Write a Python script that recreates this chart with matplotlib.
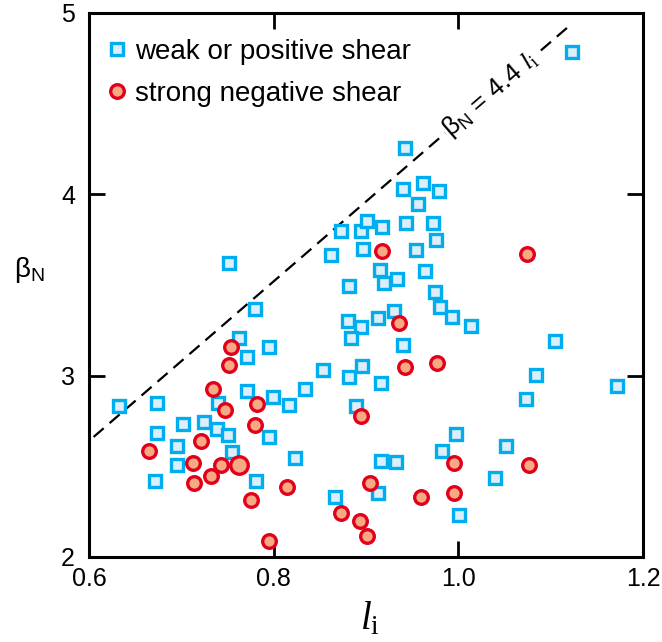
import numpy as np
import matplotlib
matplotlib.use('Agg')
import matplotlib.pyplot as plt

plt.rcParams['font.family'] = ['Liberation Sans', 'DejaVu Sans']
plt.rcParams['mathtext.fontset'] = 'custom'
plt.rcParams['mathtext.rm'] = 'Liberation Serif'
plt.rcParams['mathtext.it'] = 'Liberation Serif:italic'

# weak or positive shear discharges (internal inductance, normalised beta)
weak_li = [1.123, 0.942, 0.940, 0.962, 0.979, 0.956, 0.943, 0.973, 0.976, 0.873,
           0.895, 0.901, 0.917, 0.897, 0.862, 0.954, 0.915, 0.934, 0.920, 0.964,
           0.882, 0.975, 0.980, 0.993, 1.014, 0.930, 0.913, 0.881, 0.895, 0.884,
           0.940, 0.853, 0.896, 0.882, 0.916, 0.834, 0.889, 0.752, 0.780, 0.762,
           0.771, 0.795, 0.633, 0.674, 0.771, 0.799, 0.817, 0.740, 0.702, 0.725,
           0.739, 0.751, 0.674, 0.695, 0.795, 0.755, 0.695, 0.823, 0.671, 0.781,
           0.866, 0.913, 0.916, 0.932, 0.998, 0.982, 1.052, 1.040, 1.001, 1.105,
           1.084, 1.172, 1.073]
weak_beta = [4.787, 4.253, 4.030, 4.063, 4.019, 3.947, 3.841, 3.841, 3.748, 3.795,
             3.795, 3.851, 3.820, 3.698, 3.666, 3.693, 3.583, 3.533, 3.510, 3.577,
             3.495, 3.463, 3.377, 3.325, 3.274, 3.357, 3.318, 3.303, 3.267, 3.208,
             3.169, 3.029, 3.053, 2.990, 2.960, 2.927, 2.833, 3.620, 3.366, 3.206,
             3.105, 3.158, 2.830, 2.847, 2.914, 2.883, 2.838, 2.847, 2.731, 2.745,
             2.706, 2.673, 2.682, 2.613, 2.662, 2.579, 2.506, 2.544, 2.418, 2.420,
             2.331, 2.351, 2.532, 2.522, 2.677, 2.582, 2.612, 2.434, 2.230, 3.191,
             3.001, 2.943, 2.870]

# strong negative shear discharges
neg_li = [1.074, 0.917, 0.936, 0.942, 0.977, 0.895, 0.754, 0.752, 0.734, 0.747,
          0.782, 0.780, 0.721, 0.665, 0.713, 0.743, 0.732, 0.714, 0.814, 0.775,
          0.795, 0.904, 0.873, 0.893, 0.901, 0.960, 0.995, 0.995, 1.077]
neg_beta = [3.670, 3.689, 3.292, 3.050, 3.072, 2.776, 3.160, 3.061, 2.928, 2.811,
            2.841, 2.730, 2.641, 2.586, 2.521, 2.509, 2.444, 2.407, 2.386, 2.313,
            2.087, 2.410, 2.244, 2.200, 2.114, 2.333, 2.520, 2.355, 2.507]

# highlighted strong negative shear case
neg_hl_li = [0.763]
neg_hl_beta = [2.507]

# beta limit line
limit_coef = 4.4
limit_li = [0.605, 1.12]

sq_edge, sq_face = '#00aeef', '#dcedfb'
ci_edge, ci_face = '#e2001a', '#f5a985'

fig = plt.figure(figsize=(6.62, 6.42), dpi=100)
ax = fig.add_axes([0.1344, 0.1324, 0.8369, 0.8474])

lx = np.array(limit_li)
ax.plot(lx, limit_coef * lx, color='black', lw=1.6, ls=(0, (6, 3.5)), zorder=1)

ax.plot(weak_li, weak_beta, 's', ms=9.3, mew=2.4, mec=sq_edge, mfc=sq_face,
        ls='None', label='weak or positive shear', zorder=2)
ax.plot(neg_li, neg_beta, 'o', ms=9.8, mew=2.4, mec=ci_edge, mfc=ci_face,
        ls='None', label='strong negative shear', zorder=3)
ax.plot(neg_hl_li, neg_hl_beta, 'o', ms=12.6, mew=2.4, mec=ci_edge, mfc=ci_face,
        ls='None', zorder=3)

ax.text(1.035, limit_coef * 1.035, r'$\mathregular{\beta_N}$ = 4.4 $l_{\rm i}$',
        fontsize=19, rotation=40.8, rotation_mode='anchor', ha='center', va='center',
        bbox=dict(facecolor='white', edgecolor='none', pad=1.0), zorder=4)

ax.set_xlim(0.6, 1.2)
ax.set_ylim(2, 5)
ax.set_xticks([0.6, 0.8, 1.0, 1.2])
ax.set_xticklabels(['0.6', '0.8', '1.0', '1.2'])
ax.set_yticks([2, 3, 4, 5])
ax.set_yticklabels(['2', '3', '4', '5'])
ax.tick_params(direction='in', length=11.5, width=2.0, top=True, right=True,
               labelsize=18, pad=7)
ax.tick_params(axis='y', pad=10)
for s in ax.spines.values():
    s.set_linewidth(2.2)

ax.set_xlabel(r'$l_{\rm i}$', fontsize=28)
ax.xaxis.set_label_coords(0.507, -0.078)
ax.set_ylabel(r'$\mathregular{\beta_N}$', fontsize=20, rotation=0, va='center', ha='center')
ax.yaxis.set_label_coords(-0.107, 0.528)

ax.legend(loc='upper left', bbox_to_anchor=(0.031, 0.953), frameon=False, fontsize=20,
          handlelength=0.8, handletextpad=0.25, labelspacing=0.6, borderaxespad=0,
          borderpad=0, numpoints=1)

fig.savefig('out.png', dpi=100)
